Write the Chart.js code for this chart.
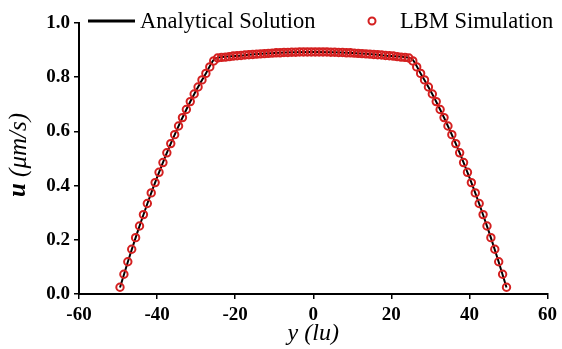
<!DOCTYPE html>
<html>
<head>
<meta charset="utf-8">
<script src="https://cdn.jsdelivr.net/npm/chart.js@4.4.1/dist/chart.umd.min.js"></script>
<style>
  html, body { margin: 0; padding: 0; background: #fff; }
  #wrap { width: 562px; height: 349px; }
</style>
</head>
<body>
<div id="wrap"><canvas id="c" width="562" height="349"></canvas></div>
<script>
// ---- Data ----
const lbmX = [
  -49.5,-48.5,-47.5,-46.5,-45.5,-44.5,-43.5,-42.5,-41.5,-40.5,
  -39.5,-38.5,-37.5,-36.5,-35.5,-34.5,-33.5,-32.5,-31.5,-30.5,
  -29.5,-28.5,-27.5,-26.5,-25.5,-24.5,-23.5,-22.5,-21.5,-20.5,
  -19.5,-18.5,-17.5,-16.5,-15.5,-14.5,-13.5,-12.5,-11.5,-10.5,
  -9.5,-8.5,-7.5,-6.5,-5.5,-4.5,-3.5,-2.5,-1.5,-0.5,
  0.5,1.5,2.5,3.5,4.5,5.5,6.5,7.5,8.5,9.5,
  10.5,11.5,12.5,13.5,14.5,15.5,16.5,17.5,18.5,19.5,
  20.5,21.5,22.5,23.5,24.5,25.5,26.5,27.5,28.5,29.5,
  30.5,31.5,32.5,33.5,34.5,35.5,36.5,37.5,38.5,39.5,
  40.5,41.5,42.5,43.5,44.5,45.5,46.5,47.5,48.5,49.5
];
const lbmU = [
  0.025,0.073,0.119,0.165,0.208,0.251,0.293,0.334,0.373,0.411,
  0.449,0.485,0.521,0.555,0.588,0.620,0.651,0.681,0.710,0.738,
  0.764,0.790,0.814,0.838,0.860,0.871,0.873,0.874,0.876,0.878,
  0.879,0.880,0.882,0.883,0.884,0.885,0.886,0.887,0.888,0.889,
  0.890,0.890,0.891,0.891,0.892,0.892,0.893,0.893,0.893,0.893,
  0.893,0.893,0.893,0.893,0.892,0.892,0.891,0.891,0.890,0.890,
  0.889,0.888,0.887,0.886,0.885,0.884,0.883,0.882,0.880,0.879,
  0.878,0.876,0.874,0.873,0.871,0.860,0.838,0.814,0.790,0.764,
  0.738,0.710,0.681,0.651,0.620,0.588,0.555,0.521,0.485,0.449,
  0.411,0.373,0.334,0.293,0.251,0.208,0.165,0.119,0.073,0.025
];
const anaX = [-49.5,-47.5,-45,-42.5,-40,-37.5,-35,-32.5,-30,-27.5,-25,-20,-15,-10,-5,0,
              5,10,15,20,25,27.5,30,32.5,35,37.5,40,42.5,45,47.5,49.5];
const anaU = [0.024,0.118,0.229,0.333,0.430,0.521,0.604,0.681,0.751,0.814,0.870,0.878,0.885,0.889,0.892,0.893,
              0.892,0.889,0.885,0.878,0.870,0.814,0.751,0.681,0.604,0.521,0.430,0.333,0.229,0.118,0.024];
const xTicks = [-60,-40,-20,0,20,40,60];
const yTicks = [0.0,0.2,0.4,0.6,0.8,1.0];
const seriesNames = ['Analytical Solution','LBM Simulation'];
const xTitle = 'y (lu)';
const yTitleMain = 'u';
const yTitleRest = ' (\u03BCm/s)';

// ---- Styling ----
const SERIF = '"Liberation Serif", "Times New Roman", serif';
const RED = 'rgb(212,32,32)';

const lbmPts = lbmX.map((x, i) => ({x: x, y: lbmU[i]}));
const anaPts = anaX.map((x, i) => ({x: x, y: anaU[i]}));

const extras = {
  id: 'extras',
  afterDraw(chart) {
    const ctx = chart.ctx;
    const area = chart.chartArea;
    ctx.save();
    // y-axis title with bold-italic "u"
    ctx.fillStyle = '#000';
    ctx.textBaseline = 'middle';
    const f1 = 'italic bold 25px ' + SERIF;
    const f2 = 'italic 25px ' + SERIF;
    ctx.font = f1; const w1 = ctx.measureText(yTitleMain).width;
    ctx.font = f2; const w2 = ctx.measureText(yTitleRest).width;
    const cy = 155;
    ctx.translate(19, cy);
    ctx.rotate(-Math.PI / 2);
    ctx.textAlign = 'left';
    ctx.font = f1; ctx.fillText(yTitleMain, -(w1 + w2) / 2, 0);
    ctx.font = f2; ctx.fillText(yTitleRest, -(w1 + w2) / 2 + w1, 0);
    ctx.restore();

    // legend
    ctx.save();
    const ly = 21;
    ctx.strokeStyle = '#000';
    ctx.lineWidth = 3;
    ctx.beginPath(); ctx.moveTo(88, ly); ctx.lineTo(135, ly); ctx.stroke();
    ctx.font = '22.5px ' + SERIF;
    ctx.fillStyle = '#000';
    ctx.textBaseline = 'middle';
    ctx.textAlign = 'left';
    ctx.fillText(seriesNames[0], 140, ly + 1);
    ctx.strokeStyle = RED;
    ctx.lineWidth = 2;
    ctx.beginPath(); ctx.arc(372, ly, 3.5, 0, Math.PI * 2); ctx.stroke();
    ctx.fillText(seriesNames[1], 400, ly + 1);
    ctx.restore();
  }
};

new Chart(document.getElementById('c'), {
  type: 'scatter',
  data: {
    datasets: [
      {
        label: seriesNames[1],
        data: lbmPts,
        showLine: false,
        pointStyle: 'circle',
        pointRadius: 3.7,
        pointBorderWidth: 2,
        pointBorderColor: RED,
        pointBackgroundColor: 'rgba(0,0,0,0)'
      },
      {
        label: seriesNames[0],
        data: anaPts,
        showLine: true,
        borderColor: '#000',
        borderWidth: 2,
        pointRadius: 0,
        cubicInterpolationMode: 'monotone'
      }
    ]
  },
  options: {
    responsive: false,
    animation: false,
    devicePixelRatio: 1,
    layout: { padding: { top: 23, right: 10, left: 0, bottom: 0 } },
    plugins: { legend: { display: false }, tooltip: { enabled: false } },
    scales: {
      x: {
        type: 'linear',
        min: -60, max: 60,
        afterBuildTicks(s) { s.ticks = xTicks.map(v => ({value: v})); },
        afterFit(s) { s.height = 55; },
        border: { color: '#000', width: 2 },
        grid: { drawOnChartArea: false, drawTicks: true, tickLength: 5, color: '#000', lineWidth: 1.5 },
        ticks: { color: '#000', padding: 5, font: { family: SERIF, size: 19, weight: 'bold' },
                 callback: v => String(v) },
        title: { display: true, text: xTitle, color: '#000', padding: { top: 0, bottom: 1 },
                 font: { family: SERIF, size: 24, style: 'italic' } }
      },
      y: {
        type: 'linear',
        min: 0, max: 1,
        afterBuildTicks(s) { s.ticks = yTicks.map(v => ({value: v})); },
        afterFit(s) { s.width = 79; },
        border: { color: '#000', width: 2 },
        grid: { drawOnChartArea: false, drawTicks: true, tickLength: 5, color: '#000', lineWidth: 1.5 },
        ticks: { color: '#000', padding: 4, font: { family: SERIF, size: 19, weight: 'bold' },
                 callback: v => Number(v).toFixed(1) }
      }
    }
  },
  plugins: [extras]
});
</script>
</body>
</html>
